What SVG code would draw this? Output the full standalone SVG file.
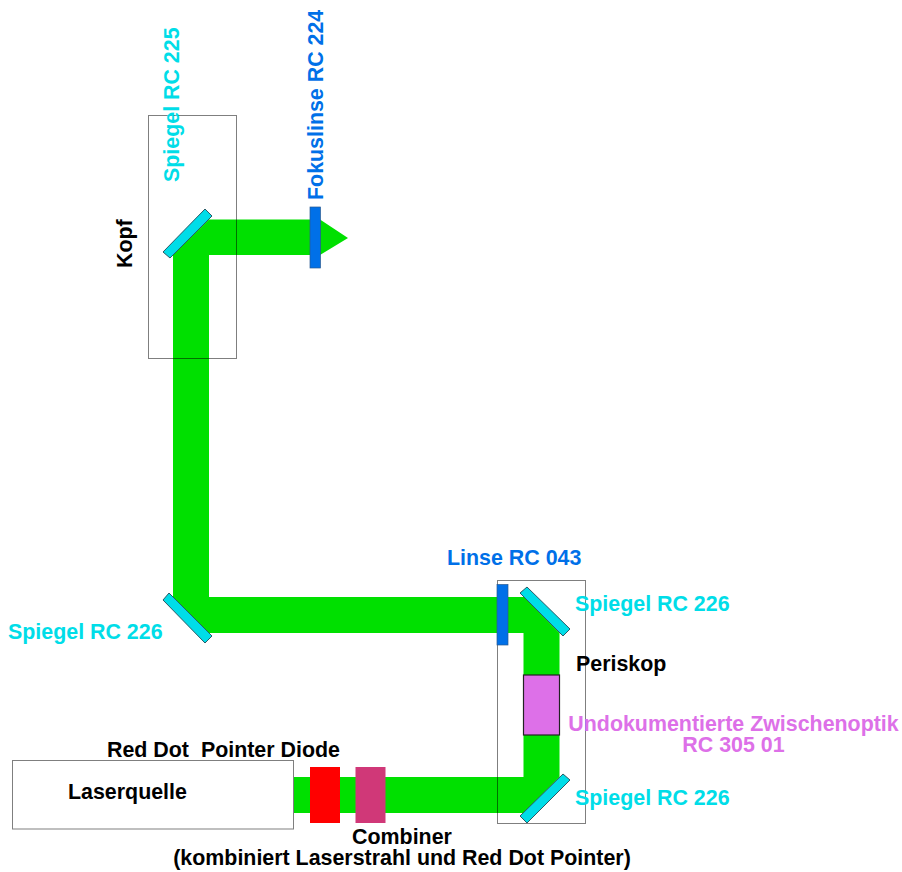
<svg xmlns="http://www.w3.org/2000/svg" width="902" height="872" viewBox="0 0 902 872">
<style>
text{font-family:"Liberation Sans",Arial,sans-serif;font-weight:700;font-size:21.4px}
.k{fill:#000}.c{fill:#00dde8}.b{fill:#0070e8}.p{fill:#dd70e8}
.box{fill:none;stroke:#000;stroke-opacity:.5;stroke-width:1}
.mir{fill:#00dde8;stroke:#2a5a66;stroke-width:1}
.lens{fill:#0070e8;stroke:#2a5a90;stroke-width:.7}
</style>
<g id="connectors">
<polygon id="beam" fill="#00e000" points="173,255 209,219.500 320,219.500 348,238 320,255 209,255 209,597 524,597 559.500,633 559.500,777 524,813 294,813 294,777 523.500,777 523.500,633 209,633 173,597"/>
</g>
<g id="kopf"><rect class="box" x="148.500" y="115.500" width="88" height="243"/><text class="k" transform="translate(132,268) rotate(-90)">Kopf</text></g>
<g id="periskop"><rect class="box" x="497.500" y="580.500" width="88" height="243"/><text class="k" x="576" y="671">Periskop</text></g>
<g id="spiegel225"><polygon class="mir" points="205,209 212,216 170,258 163,252"/><text class="c" transform="translate(179,182) rotate(-90)">Spiegel RC 225</text></g>
<g id="fokuslinse"><rect class="lens" x="310" y="207" width="10.500" height="61"/><text class="b" transform="translate(323,200) rotate(-90)">Fokuslinse RC 224</text></g>
<g id="spiegel226a"><polygon class="mir" points="169,593 163,600 205,643 212,636"/><text class="c" x="8" y="639">Spiegel RC 226</text></g>
<g id="linse043"><rect class="lens" x="497" y="584.500" width="11" height="60.500"/><text class="b" x="447" y="565">Linse RC 043</text></g>
<g id="spiegel226b"><polygon class="mir" points="527,587 520,593 563,636 570,629"/><text class="c" x="575" y="611">Spiegel RC 226</text></g>
<g id="zwischenoptik"><rect x="523.500" y="675" width="36" height="60" fill="#dd70e8" stroke="#222" stroke-width="1.200"/><text class="p" x="733.500" y="731" text-anchor="middle">Undokumentierte Zwischenoptik</text><text class="p" x="733.500" y="752" text-anchor="middle">RC 305 01</text></g>
<g id="spiegel226c"><polygon class="mir" points="563,774 570,780 527,823 520,816"/><text class="c" x="575" y="805">Spiegel RC 226</text></g>
<g id="laserquelle"><rect class="box" x="12.500" y="760.500" width="281" height="68.500" fill="#fff"/><text class="k" x="68" y="799">Laserquelle</text></g>
<g id="reddot"><rect x="310" y="767" width="30" height="56" fill="#ff0000"/><text class="k" x="107" y="757" xml:space="preserve">Red Dot  Pointer Diode</text></g>
<g id="combiner"><rect x="355.500" y="767" width="30" height="56" fill="#d03878"/><text class="k" x="402" y="844" text-anchor="middle">Combiner</text><text class="k" x="402" y="865" text-anchor="middle">(kombiniert Laserstrahl und Red Dot Pointer)</text></g>
</svg>
